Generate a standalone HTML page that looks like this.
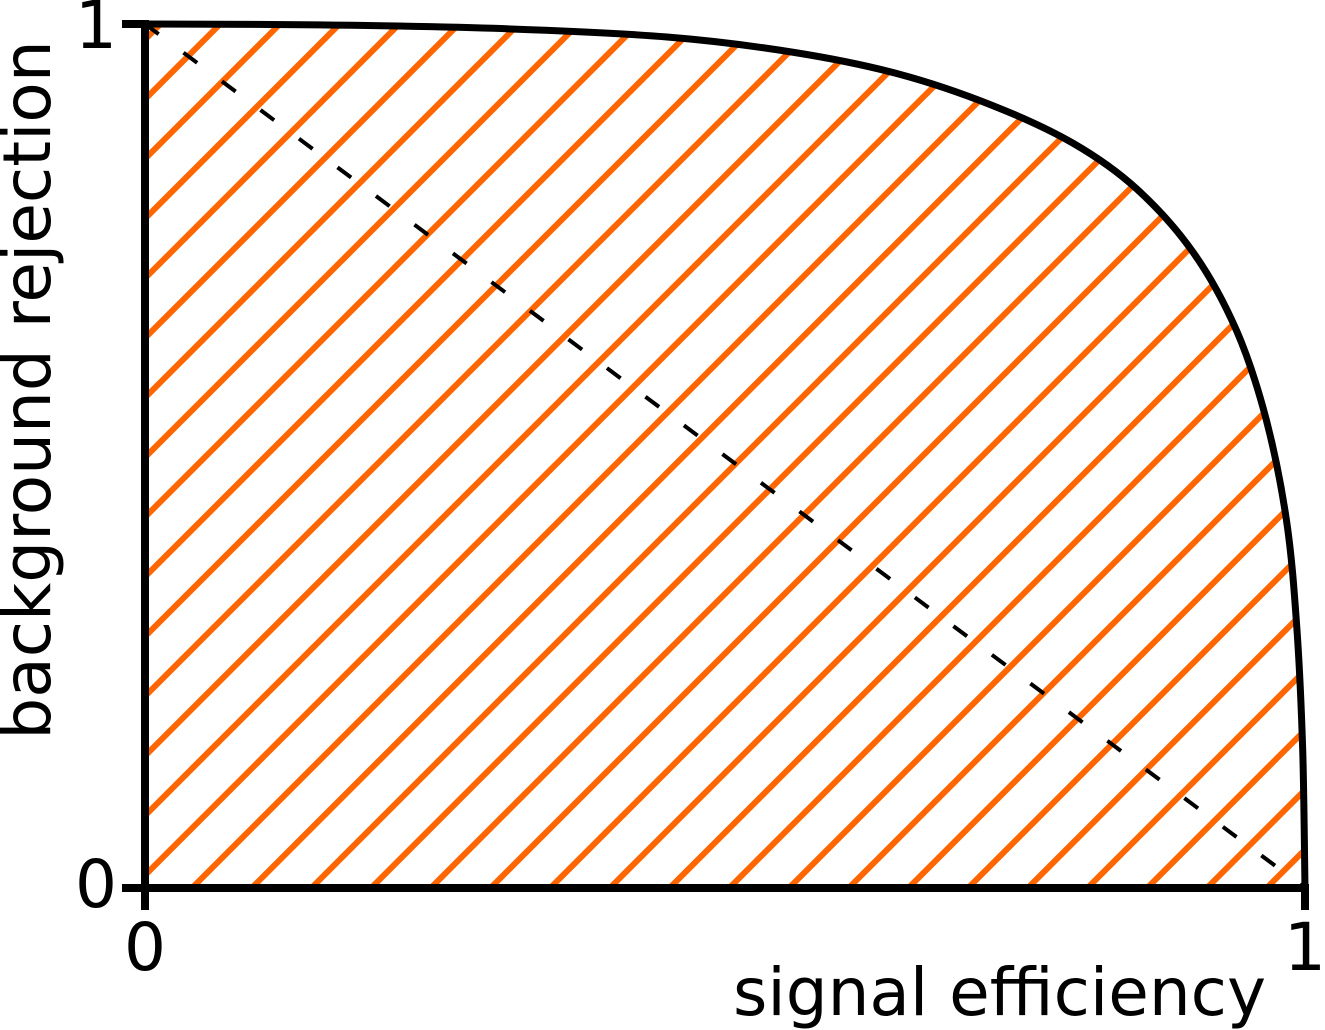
<!DOCTYPE html>
<html><head><meta charset="utf-8"><style>
html,body{margin:0;padding:0;background:#fff;}
svg{display:block;font-family:"DejaVu Sans","Liberation Sans",sans-serif;}
</style></head><body>
<svg id="chart" width="1325" height="1030" viewBox="0 0 1325 1030">
<defs><clipPath id="under"><path id="clipPath" d=""/></clipPath></defs>
<g id="hatch" clip-path="url(#under)"></g>
<path id="diag" fill="none" stroke="#000" stroke-width="4" stroke-dasharray="17 31"/>
<path id="curve" fill="none" stroke="#000" stroke-width="7"/>
<g id="axes" stroke="#000" stroke-width="8">
<line x1="145" y1="20" x2="145" y2="910"/>
<line x1="122" y1="888" x2="1309" y2="888"/>
<line x1="1305" y1="888" x2="1305" y2="910"/>
<line x1="122" y1="24" x2="145" y2="24"/>
</g>
<text x="117" y="907" font-size="66" text-anchor="end">0</text>
<text x="117" y="48" font-size="66" text-anchor="end">1</text>
<text x="145" y="970" font-size="66" text-anchor="middle">0</text>
<text x="1305" y="970" font-size="66" text-anchor="middle">1</text>
<text x="1266" y="1015" font-size="66" text-anchor="end">signal efficiency</text>
<text transform="translate(50,390) rotate(-90)" font-size="66" text-anchor="middle">background rejection</text>
</svg>
<script>
const effValues=[0,0.15,0.3,0.45,0.56,0.65,0.73,0.8,0.855,0.904,0.941,0.966,0.984,0.993,0.998,1.0];
const rejValues=[1,0.999,0.995,0.985,0.967,0.942,0.906,0.862,0.809,0.735,0.645,0.545,0.426,0.3,0.16,0];
const X=v=>145+v*1160, Y=v=>888-v*864;
const NS="http://www.w3.org/2000/svg";
const P=effValues.map((e,i)=>[X(e),Y(rejValues[i])]);
let d='M'+P[0][0]+' '+P[0][1];
for(let i=0;i<P.length-1;i++){
 const p0=P[Math.max(0,i-1)],p1=P[i],p2=P[i+1],p3=P[Math.min(P.length-1,i+2)];
 const c1=[p1[0]+(p2[0]-p0[0])/6,p1[1]+(p2[1]-p0[1])/6];
 const c2=[p2[0]-(p3[0]-p1[0])/6,p2[1]-(p3[1]-p1[1])/6];
 d+=' C'+c1[0].toFixed(1)+' '+c1[1].toFixed(1)+' '+c2[0].toFixed(1)+' '+c2[1].toFixed(1)+' '+p2[0].toFixed(1)+' '+p2[1].toFixed(1);
}
document.getElementById('curve').setAttribute('d',d);
document.getElementById('clipPath').setAttribute('d',d+' L'+X(1)+' '+Y(0)+' L'+X(0)+' '+Y(0)+' Z');
document.getElementById('diag').setAttribute('d','M'+X(0)+' '+Y(1)+' L'+X(1)+' '+Y(0));
const g=document.getElementById('hatch');
for(let x0=198-60*20;x0<1400;x0+=59.7){
 const l=document.createElementNS(NS,'line');
 l.setAttribute('x1',x0);l.setAttribute('y1',888);
 l.setAttribute('x2',x0+900);l.setAttribute('y2',-12);
 l.setAttribute('stroke','#ff6600');l.setAttribute('stroke-width','6');
 
 
 g.appendChild(l);
}
</script>
</body></html>
